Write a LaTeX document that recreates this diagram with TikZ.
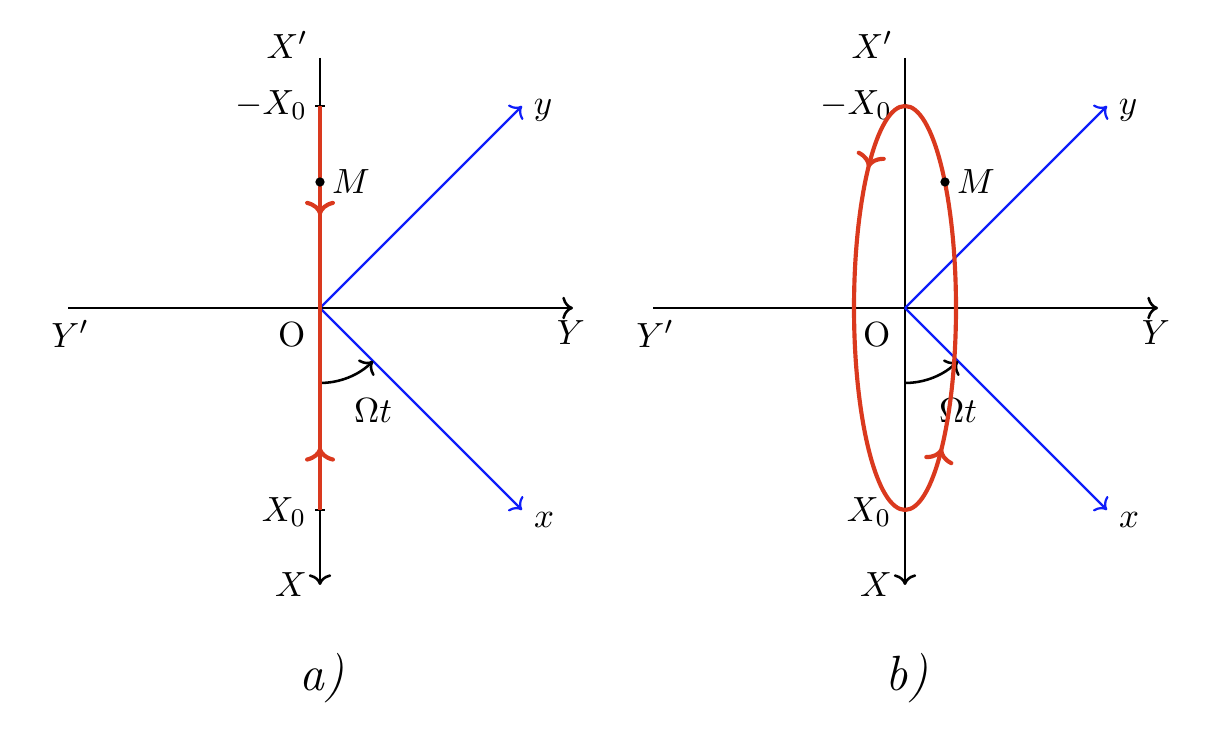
\documentclass[tikz,border=0pt,11pt]{standalone}
\usetikzlibrary{decorations.markings,arrows.meta}
\definecolor{trajred}{RGB}{218,57,30}
\definecolor{rotblue}{RGB}{15,30,250}
\tikzset{
  axisline/.style={line width=0.8pt},
  rotaxis/.style={rotblue, line width=0.7pt, ->},
  trajline/.style={trajred, line width=1.3pt},
  lbl/.style={inner sep=0pt},
  dotnode/.style={circle, fill, inner sep=0pt, minimum size=2.9pt},
  midarrow/.style={postaction={decorate}, decoration={markings, mark=at position #1 with {\arrow{To}}}},
}
\newcommand{\drawframe}[1]{%
  \coordinate (#1O) at (0,0);
  \coordinate (#1top) at (0,250);
  \coordinate (#1bot) at (0,-277);
  \coordinate (#1left) at (-252,0);
  \coordinate (#1right) at (253,0);
  \coordinate (#1yend) at (202,202);
  \coordinate (#1xend) at (202,-202);
  \coordinate (#1arcS) at (0,-75);
  \draw[axisline,->] (#1left) -- (#1right);
  \draw[axisline,->] (#1top) -- (#1bot);
  \draw[rotaxis] (#1O) -- (#1yend);
  \draw[rotaxis] (#1O) -- (#1xend);
  \draw[axisline,->] (#1arcS) arc[start angle=-90, end angle=-45, radius=0.825cm];
  \node[lbl] (#1Xp) at (-33,263) {$X'$};
  \node[lbl] (#1mX) at (-49,203) {$-X_0$};
  \node[lbl] (#1pX) at (-36,-204) {$X_0$};
  \node[lbl] (#1X) at (-29,-277) {$X$};
  \node[lbl] (#1Yp) at (-250,-26) {$Y'$};
  \node[lbl] (#1Y) at (251,-25) {$Y$};
  \node[lbl] (#1Ol) at (-28,-27) {O};
  \node[lbl] (#1Om) at (53,-103) {$\Omega t$};
  \node[lbl] (#1y) at (223,198) {$y$};
  \node[lbl] (#1x) at (224,-212) {$x$};
}
\begin{document}
\begin{tikzpicture}[x=0.011cm, y=0.011cm]
\useasboundingbox (0,0) rectangle (1211,742);
% ---------- panel a ----------
\begin{scope}[shift={(320,434)}]
  \drawframe{a}
  \coordinate (aTop) at (0,202);
  \coordinate (aBot) at (0,-202);
  \draw[axisline] (-5,202) -- (5,202);
  \draw[axisline] (-5,-202) -- (5,-202);
  \draw[trajline, midarrow=0.54] (aTop) -- (aO);
  \draw[trajline, midarrow=0.31] (aBot) -- (aO);
  \node[dotnode] (aM) at (0,126) {};
  \node[lbl] (aMl) at (31,126) {$M$};
  \node[lbl] (acap) at (2,-370) {\fontsize{15.5}{18}\selectfont\textit{a)}};
\end{scope}
% ---------- panel b ----------
\begin{scope}[shift={(905,434)}]
  \drawframe{b}
  \coordinate (bTop) at (0,202);
  \draw[trajline, postaction={decorate}, decoration={markings,
      mark=at position 0.087 with {\arrow{To}},
      mark=at position 0.587 with {\arrow{To}}}]
    (bTop) arc[start angle=90, end angle=450, x radius=0.561cm, y radius=2.222cm];
  \node[dotnode] (bM) at (40,126) {};
  \node[lbl] (bMl) at (71,126) {$M$};
  \node[lbl] (bcap) at (2,-370) {\fontsize{15.5}{18}\selectfont\textit{b)}};
\end{scope}
\end{tikzpicture}
\end{document}
